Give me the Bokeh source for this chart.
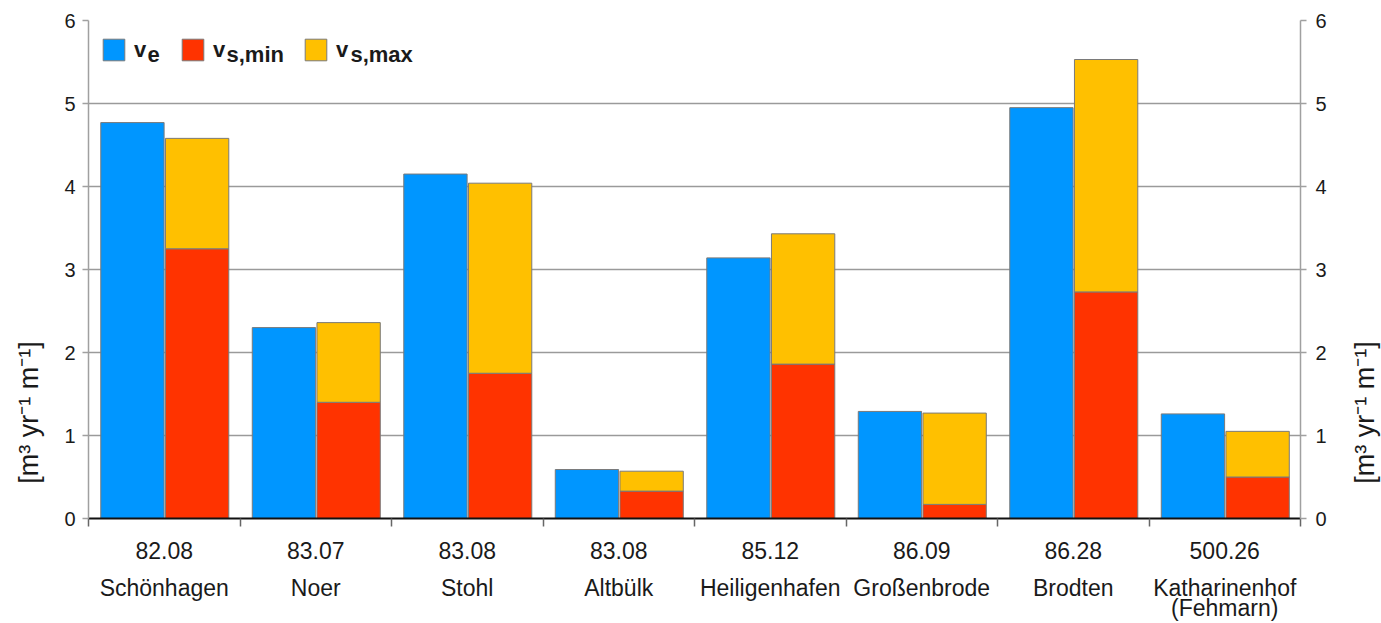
import numpy as np
from math import pi
from bokeh.plotting import figure
from bokeh.models import (Range1d, LinearAxis, FixedTicker, Label, Legend,
                          LegendItem, ColumnDataSource)
from bokeh.embed import file_html
from bokeh.resources import INLINE

# ---- data ----
stations = ["Schönhagen", "Noer", "Stohl", "Altbülk", "Heiligenhafen",
            "Großenbrode", "Brodten", "Katharinenhof\n(Fehmarn)"]
km = ["82.08", "83.07", "83.08", "83.08", "85.12", "86.09", "86.28", "500.26"]
v_e = [4.77, 2.30, 4.15, 0.59, 3.14, 1.29, 4.95, 1.26]
v_s_min = [3.25, 1.40, 1.75, 0.33, 1.86, 0.17, 2.73, 0.50]
v_s_max = [4.58, 2.36, 4.04, 0.57, 3.43, 1.27, 5.53, 1.05]
y_ticks = [0, 1, 2, 3, 4, 5, 6]
unit_label = "[m³ yr⁻¹ m⁻¹]"

BLUE = "#0096FF"
RED = "#FF3300"
YELLOW = "#FFC000"
FONT = "Liberation Sans"
TXT = "#1a1a1a"

n = len(stations)
idx = np.arange(n)
centers = [float(i) + 0.5 for i in idx]
src = ColumnDataSource(dict(
    xe=idx + 0.29, xs=idx + 0.717,
    ve=v_e, vmin=v_s_min, vmax=v_s_max,
))

p = figure(width=1381, height=623, x_range=Range1d(0, n), y_range=Range1d(0, 6),
           output_backend="svg", toolbar_location=None,
           min_border_left=88, min_border_right=81, min_border_top=20,
           min_border_bottom=105)
p.outline_line_color = None
p.background_fill_color = "white"

bw = 0.418
r_e = p.vbar(x="xe", top="ve", width=bw, source=src, fill_color=BLUE,
             line_color="#7a7a7a", line_width=1)
r_min = p.vbar(x="xs", bottom=0, top="vmin", width=bw, source=src, fill_color=RED,
               line_color="#7a7a7a", line_width=1)
r_max = p.vbar(x="xs", bottom="vmin", top="vmax", width=bw, source=src,
               fill_color=YELLOW, line_color="#7a7a7a", line_width=1)

# grid
p.xgrid.visible = False
p.ygrid.ticker = FixedTicker(ticks=y_ticks)
p.ygrid.grid_line_color = "#9a9a9a"
p.ygrid.grid_line_width = 1.5

# left axis
ya = p.yaxis[0]
ya.ticker = FixedTicker(ticks=y_ticks)
ya.axis_line_color = "#a0a0a0"
ya.axis_line_width = 1.5
ya.major_tick_line_color = "#a0a0a0"
ya.major_tick_line_width = 1.5
ya.major_tick_out = 6
ya.major_tick_in = 0
ya.minor_tick_line_color = None
ya.minor_tick_out = 0
ya.major_label_standoff = 7
ya.major_label_text_font = FONT
ya.major_label_text_font_size = "20px"
ya.major_label_text_color = TXT

# right axis
yr = LinearAxis(ticker=FixedTicker(ticks=y_ticks))
yr.axis_line_color = "#a0a0a0"
yr.axis_line_width = 1.5
yr.major_tick_line_color = "#a0a0a0"
yr.major_tick_line_width = 1.5
yr.major_tick_out = 6
yr.major_tick_in = 0
yr.minor_tick_line_color = None
yr.minor_tick_out = 0
yr.major_label_standoff = 9
yr.major_label_text_font = FONT
yr.major_label_text_font_size = "20px"
yr.major_label_text_color = TXT
p.add_layout(yr, "right")

# bottom axis: km numbers, boundary ticks as minor ticks
xa = p.xaxis[0]
xa.ticker = FixedTicker(ticks=centers, minor_ticks=[float(i) for i in range(n + 1)])
xa.major_label_overrides = {c: km[i] for i, c in enumerate(centers)}
xa.axis_line_color = "#111111"
xa.axis_line_width = 2
xa.major_tick_line_color = None
xa.major_tick_out = 0
xa.major_tick_in = 0
xa.minor_tick_line_color = "#666666"
xa.minor_tick_line_width = 1.5
xa.minor_tick_out = 8
xa.minor_tick_in = 0
xa.major_label_standoff = 15
xa.major_label_text_font = FONT
xa.major_label_text_font_size = "23px"
xa.major_label_text_color = TXT

# second bottom axis: station names
xb = LinearAxis(ticker=FixedTicker(ticks=centers))
xb.major_label_overrides = {c: stations[i] for i, c in enumerate(centers)}
xb.axis_line_color = None
xb.major_tick_line_color = None
xb.minor_tick_line_color = None
xb.major_tick_out = 0
xb.major_tick_in = 0
xb.minor_tick_out = 0
xb.minor_tick_in = 0
xb.major_label_standoff = 13
xb.major_label_text_font = FONT
xb.major_label_text_font_size = "23px"
xb.major_label_text_color = TXT
xb.major_label_text_line_height = 0.78
p.add_layout(xb, "below")

# axis unit labels (placed low, as in the original), in the side panels
p.add_layout(Label(x=-0.396, y=0.42, text=unit_label, angle=pi / 2,
                   text_align="left", text_baseline="middle",
                   text_font=FONT, text_font_size="27px", text_color=TXT), "left")
p.add_layout(Label(x=8.429, y=0.42, text=unit_label, angle=pi / 2,
                   text_align="left", text_baseline="middle",
                   text_font=FONT, text_font_size="27px", text_color=TXT), "right")

# legend (three single-item legends) + subscripts
leg_specs = [(r_e, 12, "e", 0.389), (r_min, 91, "s,min", 0.911),
             (r_max, 214, "s,max", 1.729)]
for rend, vx, sub, sx in leg_specs:
    lg = Legend(items=[LegendItem(label="v", renderers=[rend])],
                location=(vx, 455), orientation="horizontal",
                glyph_width=27, glyph_height=27, label_height=22,
                label_standoff=7, padding=0, margin=0, spacing=0,
                border_line_color=None, background_fill_alpha=0,
                label_text_font=FONT, label_text_font_size="22px",
                label_text_font_style="bold", label_text_color=TXT)
    p.add_layout(lg)
    p.add_layout(Label(x=sx, y=5.59, text=sub, text_align="left",
                       text_baseline="middle", text_font=FONT,
                       text_font_size="22px", text_font_style="bold",
                       text_color=TXT))

open("out.html", "w").write(file_html(p, INLINE))
